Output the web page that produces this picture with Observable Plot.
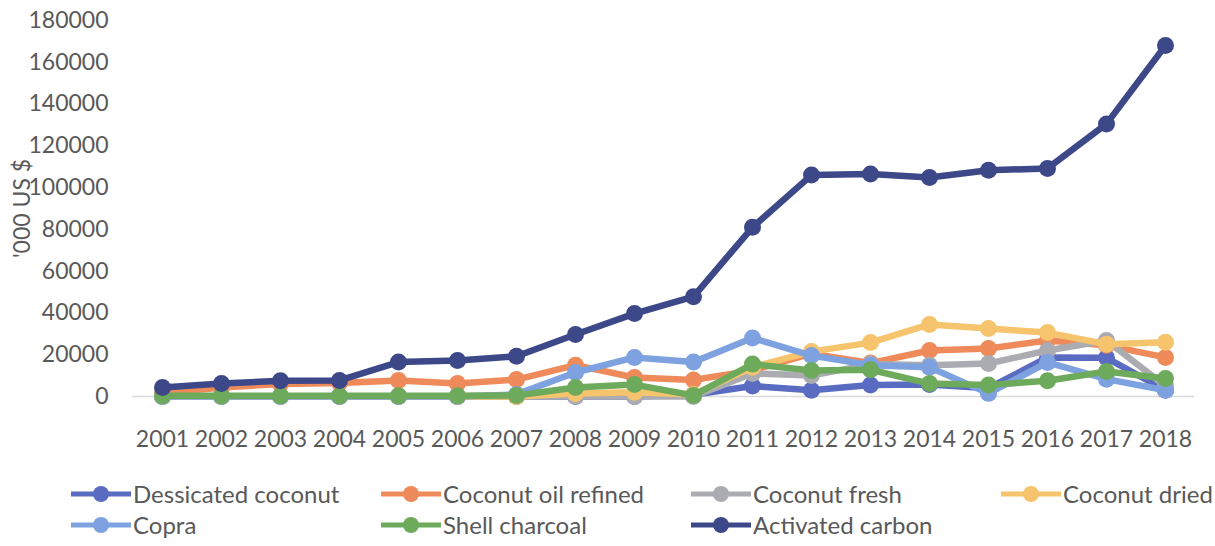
<!DOCTYPE html>
<html>
<head>
<meta charset="utf-8">
<script src="https://cdn.jsdelivr.net/npm/d3@7"></script>
<script src="https://cdn.jsdelivr.net/npm/@observablehq/plot@0.6"></script>
<style>
  html, body { margin: 0; padding: 0; background: #fff; }
  body { width: 1215px; height: 546px; overflow: hidden; font-family: Lato, "Open Sans", sans-serif; }
  #legend { position: relative; height: 78px; }
  .item { position: absolute; display: flex; align-items: center; font-size: 24px; color: #595959; white-space: nowrap; }
  .item svg { margin-right: 1px; }
</style>
</head>
<body>
<div id="chart"></div>
<div id="legend"></div>
<script>
const years = ["2001","2002","2003","2004","2005","2006","2007","2008","2009","2010","2011","2012","2013","2014","2015","2016","2017","2018"];
const seriesNames = ["Dessicated coconut","Coconut oil refined","Coconut fresh","Coconut dried","Copra","Shell charcoal","Activated carbon"];
const seriesColors = ["#5a6cc2","#ef8a5b","#ababb2","#f6c46c","#7ea1df","#6eaa5c","#3d4889"];

const dessicated = [0,0,0,0,0,0,0,0,0,800,5000,3000,5500,5800,4000,18700,18500,3000];
const oilRefined = [1500,4300,6000,6500,7700,6200,8100,15000,9100,7900,12500,20500,16000,22000,23000,26800,24500,18700];
const fresh      = [0,0,0,0,0,0,0,0,0,0,11000,10000,15500,15000,15800,22000,26800,5000];
const dried      = [0,0,0,0,0,0,0,1400,2000,1000,14000,21500,25800,34500,32500,30600,25000,26000];
const copra      = [0,0,0,0,0,0,1000,11500,18700,16500,28000,19600,15000,14000,1500,16300,8300,3000];
const shell      = [300,300,300,300,300,300,500,4300,5700,500,15500,12400,12800,6200,5500,7500,12000,8600];
const activated  = [4300,6200,7500,7700,16500,17200,19300,29700,39700,47800,81000,106000,106500,104800,108300,109200,130500,168000];
const yTicks = [0,20000,40000,60000,80000,100000,120000,140000,160000,180000];

const seriesValues = [dessicated, oilRefined, fresh, dried, copra, shell, activated];
const rows = seriesNames.map((name, i) => years.map((year, j) => ({series: name, year, value: seriesValues[i][j]})));

const marks = [Plot.ruleY([0], {stroke: "#d9d9d9", strokeWidth: 1.5})];
rows.forEach(data => {
  marks.push(Plot.line(data, {x: "year", y: "value", stroke: "series", strokeWidth: 6.5, strokeLinejoin: "round", strokeLinecap: "round"}));
  marks.push(Plot.dot(data, {x: "year", y: "value", fill: "series", r: 8.5, stroke: "none"}));
});
marks.push(Plot.axisX({tickSize: 0, tickPadding: 34, fontSize: 23, color: "#595959", label: null}));
marks.push(Plot.axisY({ticks: yTicks, tickSize: 0, tickPadding: 24, fontSize: 23, color: "#595959", tickFormat: d3.format("d"),
  label: "'000 US $", labelAnchor: "center", labelArrow: "none", labelOffset: 119}));

const chart = Plot.plot({
  width: 1215,
  height: 468,
  marginTop: 20,
  marginBottom: 72,
  marginLeft: 132,
  marginRight: 21,
  style: {fontFamily: "Lato, 'Open Sans', sans-serif", fontSize: "23px", color: "#595959", background: "#fff"},
  x: {type: "point", domain: years, padding: 0.5},
  y: {domain: [0, 180000]},
  color: {domain: seriesNames, range: seriesColors},
  marks
});
document.getElementById("chart").appendChild(chart);

// Legend (HTML below the SVG)
const legend = document.getElementById("legend");
const colX = [70, 380, 690, 1000];
seriesNames.forEach((name, i) => {
  const col = i % 4, row = Math.floor(i / 4);
  const div = document.createElement("div");
  div.className = "item";
  div.style.left = colX[col] + "px";
  div.style.top = (10 + row * 31) + "px";
  div.style.height = "31px";
  const c = seriesColors[i];
  div.innerHTML = `<svg width="62" height="20"><line x1="1" x2="61" y1="10" y2="10" stroke="${c}" stroke-width="5"/><circle cx="31" cy="10" r="8" fill="${c}"/></svg><span>${name}</span>`;
  legend.appendChild(div);
});
</script>
</body>
</html>
